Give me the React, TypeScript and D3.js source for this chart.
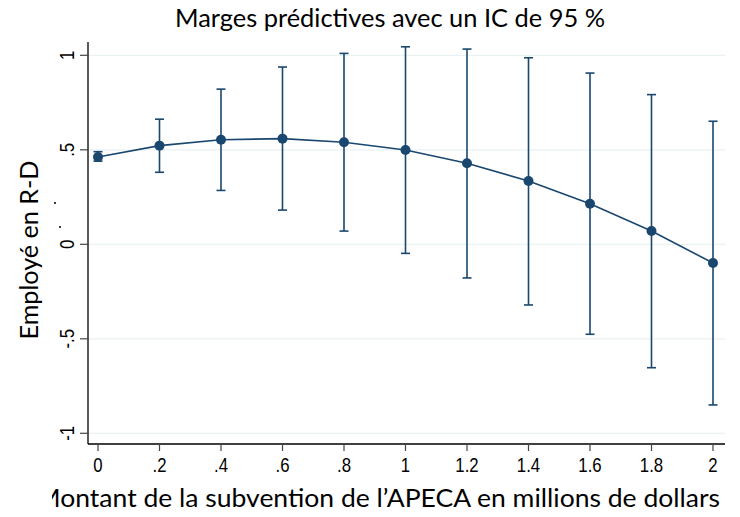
import React from "react";
import * as d3 from "d3";

const xValues = [0, 0.2, 0.4, 0.6, 0.8, 1, 1.2, 1.4, 1.6, 1.8, 2];
const margins = [0.462, 0.522, 0.553, 0.559, 0.54, 0.499, 0.429, 0.335, 0.215, 0.07, -0.099];
const ciLower = [0.44, 0.381, 0.285, 0.181, 0.07, -0.048, -0.178, -0.321, -0.476, -0.653, -0.85];
const ciUpper = [0.49, 0.662, 0.821, 0.938, 1.01, 1.045, 1.033, 0.987, 0.906, 0.792, 0.651];
const xTicks = [0, 0.2, 0.4, 0.6, 0.8, 1, 1.2, 1.4, 1.6, 1.8, 2];
const xTickLabels = ["0", ".2", ".4", ".6", ".8", "1", "1.2", "1.4", "1.6", "1.8", "2"];
const yTicks = [-1, -0.5, 0, 0.5, 1];
const yTickLabels = ["-1", "-.5", "0", ".5", "1"];

const title = "Marges prédictives avec un IC de 95 %";
const yTitle = "Employé en R-D";
const xTitle = "Montant de la subvention de l’APECA en millions de dollars";

export default function App() {
  const W = 740, H = 517;
  const x = d3.scaleLinear().domain([0, 2]).range([98, 713]);
  const y = d3.scaleLinear().domain([-1, 1]).range([433.3, 55.3]);
  const color = "#1a476f";
  const line = d3.line<number>().x((_, i) => x(xValues[i])).y((d) => y(d));
  const plotLeft = 88, plotRight = 725, plotTop = 42, plotBottom = 444;
  const tickFont = "'Liberation Sans', Arial, sans-serif";
  const labelFont = "Lato, 'Open Sans', sans-serif";
  return (
    <svg width={W} height={H} style={{ position: "absolute", left: 0, top: 0, background: "#fff" }}>
      <defs>
        <clipPath id="xlabclip">
          <rect x={52} y={470} width={700} height={47} />
        </clipPath>
      </defs>
      <rect x={0} y={0} width={W} height={H} fill="#fff" />
      {yTicks.map((t) => (
        <line key={"g" + t} x1={plotLeft} x2={plotRight} y1={y(t)} y2={y(t)} stroke="#eaf2f3" strokeWidth={1.2} />
      ))}
      <line x1={plotLeft} x2={plotLeft} y1={plotTop} y2={plotBottom} stroke="#000" strokeWidth={1.3} />
      <line x1={plotLeft} x2={plotRight} y1={plotBottom} y2={plotBottom} stroke="#000" strokeWidth={1.3} />
      {yTicks.map((t, i) => (
        <g key={"y" + t}>
          <line x1={plotLeft - 8} x2={plotLeft} y1={y(t)} y2={y(t)} stroke="#444" strokeWidth={1.2} />
          <text
            transform={`translate(${73.5},${y(t)}) rotate(-90) scale(0.84,1)`}
            textAnchor="middle"
            fontFamily={tickFont}
            fontSize={20}
            fill="#000"
          >
            {yTickLabels[i]}
          </text>
        </g>
      ))}
      {xTicks.map((t, i) => (
        <g key={"x" + t}>
          <line x1={x(t)} x2={x(t)} y1={plotBottom} y2={plotBottom + 7} stroke="#444" strokeWidth={1.2} />
          <text
            transform={`translate(${x(t)},${472}) scale(0.84,1)`}
            textAnchor="middle"
            fontFamily={tickFont}
            fontSize={20}
            fill="#000"
          >
            {xTickLabels[i]}
          </text>
        </g>
      ))}
      {xValues.map((xv, i) => (
        <g key={"e" + i} stroke={color} strokeWidth={1.6}>
          <line x1={x(xv)} x2={x(xv)} y1={y(ciLower[i])} y2={y(ciUpper[i])} />
          <line x1={x(xv) - 4.5} x2={x(xv) + 4.5} y1={y(ciLower[i])} y2={y(ciLower[i])} />
          <line x1={x(xv) - 4.5} x2={x(xv) + 4.5} y1={y(ciUpper[i])} y2={y(ciUpper[i])} />
        </g>
      ))}
      <path d={line(margins) || ""} fill="none" stroke={color} strokeWidth={1.6} />
      {xValues.map((xv, i) => (
        <circle key={"p" + i} cx={x(xv)} cy={y(margins[i])} r={5} fill={color} />
      ))}
      <text x={175} y={27} textLength={430} lengthAdjust="spacingAndGlyphs" fontFamily={labelFont} fontSize={25} fill="#000">
        {title}
      </text>
      <text
        transform={`translate(${38},${250}) rotate(-90)`}
        x={-89.5}
        textLength={179}
        lengthAdjust="spacingAndGlyphs"
        fontFamily={labelFont}
        fontSize={25}
        fill="#000"
      >
        {yTitle}
      </text>
      <circle cx={55} cy={203} r={1} fill="#000" />
      <circle cx={60} cy={227} r={1} fill="#000" />
      <g clipPath="url(#xlabclip)">
        <text x={36} y={507} textLength={684} lengthAdjust="spacingAndGlyphs" fontFamily={labelFont} fontSize={25} fill="#000">
          {xTitle}
        </text>
      </g>
    </svg>
  );
}
